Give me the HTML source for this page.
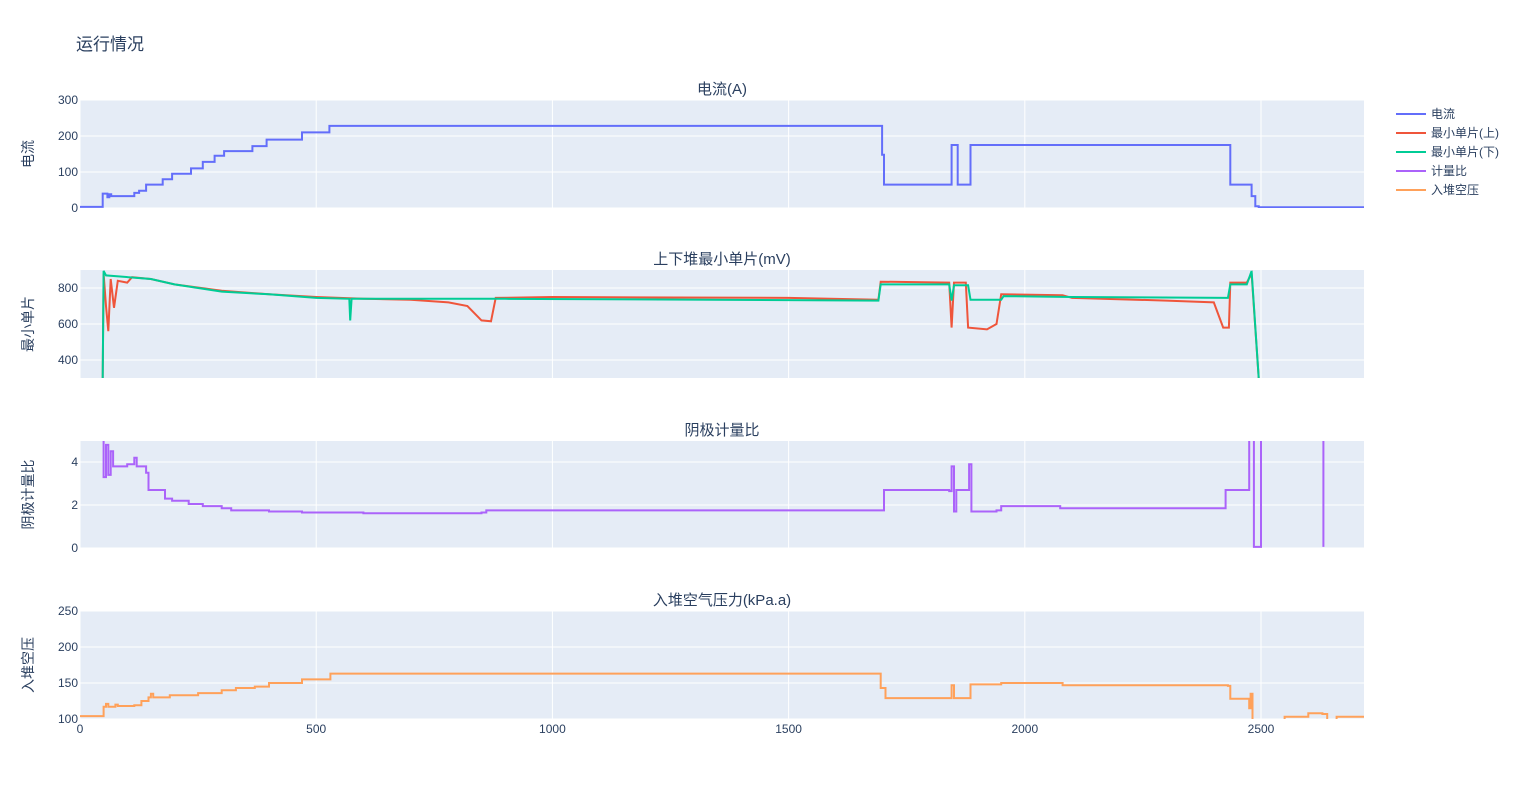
<!DOCTYPE html>
<html><head><meta charset="utf-8">
<style>
body{margin:0;background:#fff;}
svg{display:block;font-family:"Liberation Sans","Noto Sans CJK SC",sans-serif;}
</style></head>
<body>
<svg id="chart" width="1520" height="800"></svg>
<script>
const xTicks=[0,500,1000,1500,2000,2500];
const currX=[0,48,48,58,62,66,110,115,125,140,175,195,235,260,285,305,365,395,470,528,1690,1698,1702,1840,1845,1852,1858,1880,1885,2430,2435,2475,2480,2488,2495,2718];
const currY=[3,3,40,30,38,33,33,42,48,65,80,95,110,128,145,158,172,190,210,228,228,148,65,65,175,175,65,65,175,175,65,65,33,5,2,2];
const upX=[48,50,55,60,65,72,80,100,110,150,200,300,400,500,600,700,780,820,850,870,880,1000,1500,1690,1695,1840,1845,1850,1875,1880,1920,1940,1950,2080,2100,2300,2400,2420,2432,2435,2470,2480,2495];
const upY=[300,880,700,560,850,690,840,830,860,850,820,785,765,750,740,735,720,700,620,615,745,750,745,735,835,830,580,830,830,580,570,600,765,760,745,730,720,580,580,830,830,880,300];
const loX=[48,50,55,150,200,300,400,500,570,572,575,900,1690,1695,1840,1845,1850,1880,1885,1950,1955,2100,2430,2435,2470,2480,2495];
const loY=[300,895,870,850,820,780,765,745,740,620,740,740,730,820,820,730,815,815,735,735,755,750,745,820,820,895,300];
const ratX=[48,50,55,60,65,70,100,115,120,140,145,175,180,195,230,260,300,320,400,470,600,850,860,1700,1702,1840,1845,1850,1855,1880,1882,1887,1940,1950,2070,2075,2420,2425,2470,2475,2485,2497,2500,2628,2630,2632];
const ratY=[5,3.3,4.8,3.4,4.5,3.8,3.9,4.2,3.8,3.5,2.7,2.7,2.3,2.2,2.05,1.95,1.85,1.75,1.7,1.65,1.62,1.65,1.75,1.75,2.7,2.65,3.8,1.7,2.7,2.7,3.9,1.7,1.75,1.95,1.95,1.85,1.85,2.7,2.7,6,0.05,0.05,6,null,5,0.05];
const prX=[0,45,50,55,60,75,80,115,130,145,150,155,190,250,300,330,370,400,470,530,1690,1695,1705,1840,1845,1850,1880,1885,1950,2080,2430,2435,2470,2475,2478,2482,2495,2550,2600,2630,2640,2660,2718];
const prY=[104,104,117,121,117,120,118,119,125,130,135,130,133,136,140,143,145,150,155,163,163,143,129,129,147,129,129,148,150,147,146,128,128,115,135,95,95,103,108,107,97,103,104];

const NS="http://www.w3.org/2000/svg";
const svg=document.getElementById('chart');
function el(t,a,p){const e=document.createElementNS(NS,t);for(const k in a)e.setAttribute(k,a[k]);(p||svg).appendChild(e);return e;}
const X0=80,X1=1364,XMAX=2718;
const sx=v=>X0+(v/XMAX)*(X1-X0);
const panels=[
 {top:100,bot:208,min:0,max:300,ticks:[0,100,200,300],title:'电流(A)',yt:'电流',name:'current'},
 {top:270,bot:378,min:300,max:900,ticks:[400,600,800],title:'上下堆最小单片(mV)',yt:'最小单片',name:'min-cell'},
 {top:441,bot:548,min:0,max:4.98,ticks:[0,2,4],title:'阴极计量比',yt:'阴极计量比',name:'ratio'},
 {top:611,bot:719,min:100,max:250,ticks:[100,150,200,250],title:'入堆空气压力(kPa.a)',yt:'入堆空压',name:'pressure'}
];
let t=el('text',{x:76,y:50,'font-size':17,fill:'#2a3f5f'});t.textContent='运行情况';


panels.forEach((p,i)=>{
 const g=el('g',{});
 
 
 el('rect',{x:X0,y:p.top,width:X1-X0,height:p.bot-p.top,fill:'#E5ECF6'},g);
 p.sy=v=>p.bot-(v-p.min)/(p.max-p.min)*(p.bot-p.top);
 xTicks.forEach(v=>{el('line',{x1:sx(v),x2:sx(v),y1:p.top,y2:p.bot,stroke:'#fff','stroke-width':1},g);});
 p.ticks.forEach(v=>{const y=p.sy(v);el('line',{x1:X0,x2:X1,y1:y,y2:y,stroke:'#fff','stroke-width':1},g);
  const tt=el('text',{x:X0-2,y:y+4,'font-size':12,fill:'#2a3f5f','text-anchor':'end'},g);tt.textContent=v;
  
  });
 const ti=el('text',{x:722,y:p.top-6,'font-size':15,fill:'#2a3f5f','text-anchor':'middle'},g);ti.textContent=p.title;
 
 
 const yc=(p.top+p.bot)/2;
 const yt=el('text',{x:33,y:yc,'font-size':14,fill:'#2a3f5f','text-anchor':'middle',transform:`rotate(-90 33 ${yc})`},g);yt.textContent=p.yt;
 
 
 const cp=el('clipPath',{id:'cp'+i},g);el('rect',{x:X0,y:p.top,width:X1-X0,height:p.bot-p.top},cp);
});
xTicks.forEach(v=>{const tt=el('text',{x:sx(v),y:733,'font-size':12,fill:'#2a3f5f','text-anchor':'middle'});tt.textContent=v;
 
 });
function line(xs,ys,p,pi,color,name,step){
 let d='',pen=false,py=0;
 xs.forEach((x,k)=>{if(ys[k]===null){pen=false;return;}
  const X=sx(x).toFixed(1),Y=p.sy(ys[k]).toFixed(1);
  if(pen&&step)d+='L'+X+','+py;
  d+=(pen?'L':'M')+X+','+Y;pen=true;py=Y;});
 const e=el('path',{d:d,fill:'none',stroke:color,'stroke-width':2,'clip-path':`url(#cp${pi})`});
 
 
}
line(currX,currY,panels[0],0,'#636efa','current-line',true);
line(upX,upY,panels[1],1,'#EF553B','upper-min-cell-line',false);
line(loX,loY,panels[1],1,'#00cc96','lower-min-cell-line',false);
line(ratX,ratY,panels[2],2,'#ab63fa','ratio-line',true);
line(prX,prY,panels[3],3,'#FFA15A','pressure-line',true);
const leg=[['电流','#636efa'],['最小单片(上)','#EF553B'],['最小单片(下)','#00cc96'],['计量比','#ab63fa'],['入堆空压','#FFA15A']];
leg.forEach((l,k)=>{const y=114+k*19;
 const g=el('g',{});
 
 
 el('line',{x1:1396,x2:1426,y1:y,y2:y,stroke:l[1],'stroke-width':2},g);
 const tt=el('text',{x:1431,y:y+4,'font-size':12,fill:'#2a3f5f'},g);tt.textContent=l[0];});
</script>
</body></html>
